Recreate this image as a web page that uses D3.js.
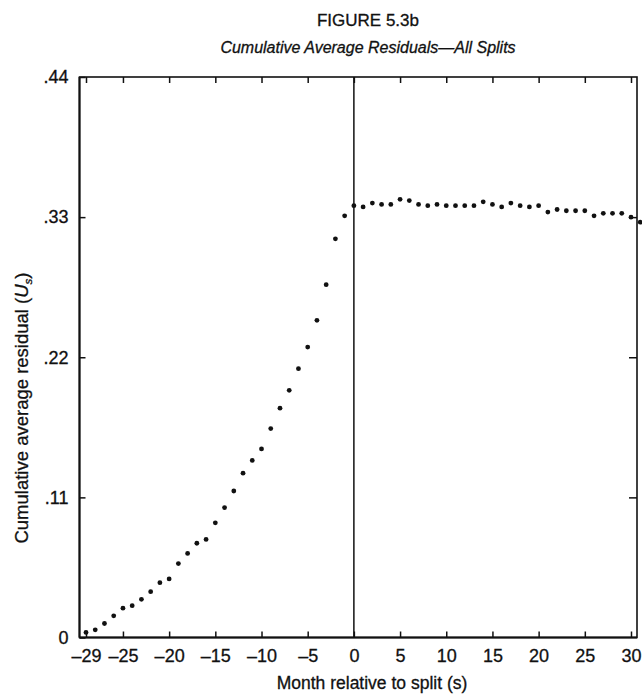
<!DOCTYPE html>
<html>
<head>
<meta charset="utf-8">
<script src="https://cdn.jsdelivr.net/npm/d3@7"></script>
<style>
  html, body { margin: 0; padding: 0; background: #fff; }
  svg { display: block; }
  text { font-family: "Liberation Sans", Arial, Helvetica, sans-serif; fill: #111; stroke: #111; stroke-width: 0.3px; }
</style>
</head>
<body>
<svg id="chart" width="642" height="695"></svg>
<script>
// ---- Data ----
const months = [
  -29,-28,-27,-26,-25,-24,-23,-22,-21,-20,
  -19,-18,-17,-16,-15,-14,-13,-12,-11,-10,
  -9,-8,-7,-6,-5,-4,-3,-2,-1,
  0,1,2,3,4,5,6,7,8,9,10,
  11,12,13,14,15,16,17,18,19,20,
  21,22,23,24,25,26,27,28,29,30,31
];
const residuals = [
  0.004,0.006,0.011,0.017,0.023,0.025,0.030,0.036,0.043,0.046,
  0.058,0.066,0.074,0.077,0.090,0.102,0.115,0.129,0.139,0.148,
  0.164,0.180,0.194,0.211,0.228,0.249,0.277,0.313,0.331,
  0.339,0.338,0.341,0.340,0.340,0.344,0.343,0.340,0.339,0.340,0.339,
  0.339,0.339,0.339,0.342,0.340,0.338,0.341,0.339,0.338,0.339,
  0.334,0.336,0.335,0.335,0.335,0.331,0.333,0.333,0.333,0.330,0.326
];
const xTicks = [-29,-25,-20,-15,-10,-5,0,5,10,15,20,25,30];
const xTickLabels = ["\u201329","\u201325","\u201320","\u201315","\u201310","\u20135","0","5","10","15","20","25","30"];
const yTicks = [0, 0.11, 0.22, 0.33, 0.44];
const yTickLabels = ["0", ".11", ".22", ".33", ".44"];
const titleText = "FIGURE 5.3b";
const subtitleText = "Cumulative Average Residuals\u2014All Splits";
const xLabelText = "Month relative to split (s)";

// ---- Layout ----
const svg = d3.select("#chart");
const frame = { left: 79.5, right: 637, top: 77, bottom: 637.5 };

const x = d3.scaleLinear().domain([-29, 30]).range([86, 631]);
const y = d3.scaleLinear().domain([0, 0.44]).range([637.5, 77]);

// Titles
svg.append("text").attr("x", 368).attr("y", 26)
  .attr("text-anchor", "middle").attr("font-size", 17)
  .text(titleText);
svg.append("text").attr("x", 368).attr("y", 53)
  .attr("text-anchor", "middle").attr("font-size", 16)
  .attr("font-style", "italic")
  .text(subtitleText);

// Frame
const g = svg.append("g");
g.append("rect")
  .attr("x", frame.left).attr("y", frame.top)
  .attr("width", frame.right - frame.left).attr("height", frame.bottom - frame.top)
  .attr("fill", "none").attr("stroke", "#111").attr("stroke-width", 1.6);
g.append("line")
  .attr("x1", frame.left).attr("x2", frame.left)
  .attr("y1", frame.top).attr("y2", frame.bottom)
  .attr("stroke", "#111").attr("stroke-width", 2);
g.append("line")
  .attr("x1", frame.left).attr("x2", frame.right)
  .attr("y1", frame.bottom).attr("y2", frame.bottom)
  .attr("stroke", "#111").attr("stroke-width", 2);

// Vertical line at month 0
g.append("line")
  .attr("x1", x(0)).attr("x2", x(0))
  .attr("y1", frame.top).attr("y2", frame.bottom)
  .attr("stroke", "#111").attr("stroke-width", 1.5);

// Bottom axis (ticks inward)
const xAxisBottom = d3.axisBottom(x)
  .tickValues(xTicks)
  .tickSizeInner(-6).tickSizeOuter(0)
  .tickPadding(12)
  .tickFormat((d, i) => xTickLabels[i]);
const gxb = svg.append("g").attr("transform", `translate(0,${frame.bottom})`).call(xAxisBottom);
gxb.select(".domain").remove();
gxb.selectAll(".tick line").attr("stroke", "#111").attr("stroke-width", 1.5);
gxb.selectAll(".tick text").attr("font-size", 18).attr("fill", "#111")
  .attr("font-family", "'Liberation Sans', Arial, sans-serif");

// Top axis ticks
const xAxisTop = d3.axisTop(x).tickValues(xTicks).tickSizeInner(-6).tickSizeOuter(0).tickFormat("");
const gxt = svg.append("g").attr("transform", `translate(0,${frame.top})`).call(xAxisTop);
gxt.select(".domain").remove();
gxt.selectAll(".tick line").attr("stroke", "#111").attr("stroke-width", 1.5);

// Left axis
const yAxisLeft = d3.axisLeft(y)
  .tickValues(yTicks)
  .tickSizeInner(-6).tickSizeOuter(0)
  .tickPadding(11)
  .tickFormat((d, i) => yTickLabels[i]);
const gyl = svg.append("g").attr("transform", `translate(${frame.left},0)`).call(yAxisLeft);
gyl.select(".domain").remove();
gyl.selectAll(".tick line").attr("stroke", "#111").attr("stroke-width", 1.5);
gyl.selectAll(".tick text").attr("font-size", 18).attr("fill", "#111")
  .attr("font-family", "'Liberation Sans', Arial, sans-serif");

// Right axis ticks
const yAxisRight = d3.axisRight(y).tickValues(yTicks.slice(1, 4)).tickSizeInner(-8).tickSizeOuter(0).tickFormat("");
const gyr = svg.append("g").attr("transform", `translate(${frame.right},0)`).call(yAxisRight);
gyr.select(".domain").remove();
gyr.selectAll(".tick line").attr("stroke", "#111").attr("stroke-width", 1.5);

// Axis titles
svg.append("text").attr("x", 372).attr("y", 689)
  .attr("text-anchor", "middle").attr("font-size", 17.5)
  .text(xLabelText);

const yl = svg.append("text")
  .attr("transform", `translate(28,408) rotate(-90)`)
  .attr("text-anchor", "middle").attr("font-size", 18.5);
yl.append("tspan").text("Cumulative average residual (");
yl.append("tspan").attr("font-style", "italic").text("U");
yl.append("tspan").attr("font-style", "italic").attr("font-size", 11.5).attr("dy", 4).text("s");
yl.append("tspan").attr("dy", -4).text(")");

// Points
const data = months.map((m, i) => ({ m, v: residuals[i] }));
svg.append("g").selectAll("circle").data(data).join("circle")
  .attr("cx", d => x(d.m)).attr("cy", d => y(d.v))
  .attr("r", 2.4).attr("fill", "#111");
</script>
</body>
</html>
